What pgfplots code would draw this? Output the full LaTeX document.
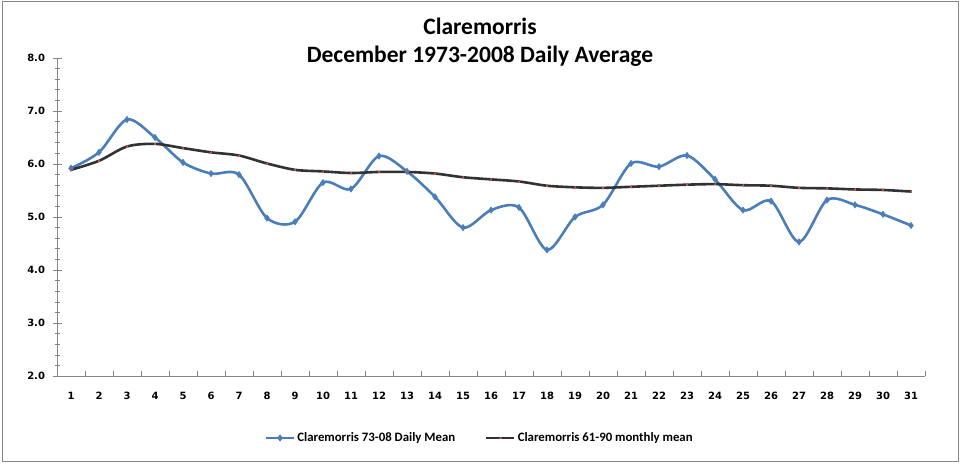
\documentclass[border=0pt]{standalone}
\usepackage{fontspec}
\setmainfont{Carlito}
\newfontfamily\tickfont{DejaVu Sans}
\usepackage{pgfplots}
\pgfplotsset{compat=1.18}
\definecolor{xlblue}{RGB}{74,126,187}
\definecolor{xldark}{RGB}{50,50,50}
\definecolor{xlgray}{RGB}{134,134,134}
\definecolor{xlred}{RGB}{192,80,77}

\pgfplotstableread{
day mean
1 5.92
2 6.22
3 6.84
4 6.50
5 6.03
6 5.82
7 5.80
8 4.98
9 4.91
10 5.65
11 5.53
12 6.15
13 5.86
14 5.38
15 4.80
16 5.13
17 5.18
18 4.38
19 5.00
20 5.23
21 6.01
22 5.95
23 6.16
24 5.71
25 5.13
26 5.30
27 4.53
28 5.32
29 5.23
30 5.05
31 4.84
}\dailytable

\pgfplotstableread{
day mean
1 5.89
2 6.06
3 6.33
4 6.38
5 6.30
6 6.22
7 6.16
8 6.01
9 5.89
10 5.86
11 5.83
12 5.85
13 5.85
14 5.82
15 5.75
16 5.71
17 5.67
18 5.59
19 5.56
20 5.55
21 5.57
22 5.59
23 5.61
24 5.62
25 5.60
26 5.59
27 5.55
28 5.54
29 5.52
30 5.51
31 5.48
}\normaltable

\begin{document}
\begin{tikzpicture}
\useasboundingbox (0pt,0pt) rectangle (960pt,463pt);
\draw[xlgray, line width=1pt] (2pt,2pt) rectangle (958pt,461pt);
\node[font=\fontsize{23.5}{28}\selectfont\bfseries] at (480pt,437pt) {Claremorris};
\node[font=\fontsize{23.5}{28}\selectfont\bfseries] at (480pt,407pt) {December 1973-2008 Daily Average};
\begin{axis}[
  at={(57pt,87pt)}, anchor=south west,
  scale only axis, width=868pt, height=318pt,
  xmin=0.5, xmax=31.5, ymin=2, ymax=8,
  axis lines=left,
  axis line style={xlgray, line width=0.8pt, -},
  xtick={1,...,31},
  minor xtick={0.5,1.5,...,31.5},
  ytick={2,3,...,8},
  minor y tick num=4,
  xtick align=inside,
  ytick align=center,
  major tick length=9pt,
  minor tick length=5pt,
  x tick style={draw=none},
  minor x tick style={draw=xlgray, line width=0.6pt},
  y tick style={draw=xlgray, line width=0.6pt},
  minor y tick style={draw=xlgray, line width=0.6pt},
  /pgf/number format/assume math mode=true,
  ticklabel style={font=\tickfont\bfseries\fontsize{10}{12}\selectfont},
  yticklabel style={/pgf/number format/fixed, /pgf/number format/fixed zerofill, /pgf/number format/precision=1, xshift=-4pt},
  xticklabel style={yshift=-13pt},
  legend columns=2,
  legend cell align=left,
  legend style={at={(0.487,-0.195)}, anchor=center, draw=none,
    font=\fontsize{12.8}{15}\selectfont\bfseries,
    nodes={inner xsep=2pt},
    /tikz/every even column/.append style={column sep=28pt}},
  legend image code/.code={\draw[#1, mark repeat=2, mark phase=2] plot coordinates {(0pt,0pt) (14pt,0pt) (28pt,0pt)};},
]
\addplot[xlblue, line width=2.6pt, smooth, tension=0.5, mark=diamond*, mark size=3.2pt, mark options={solid, line width=0.5pt, fill=xlblue}] table[x=day, y=mean] {\dailytable};
\addlegendentry{Claremorris 73-08 Daily Mean}
\addplot[xldark, line width=2.6pt, smooth, tension=0.5, mark=*, mark size=0.7pt, mark options={draw=xlred, fill=xlred, line width=0pt}] table[x=day, y=mean] {\normaltable};
\addlegendentry{Claremorris 61-90 monthly mean}
\end{axis}
\end{tikzpicture}
\end{document}
